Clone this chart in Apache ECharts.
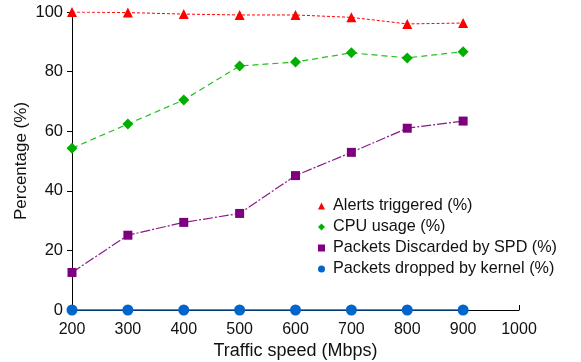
<!DOCTYPE html>
<html>
<head>
<meta charset="utf-8">
<script src="https://cdn.jsdelivr.net/npm/echarts@6/dist/echarts.min.js"></script>
<style>
  html, body { margin: 0; padding: 0; background: #fff; }
  #main { width: 581px; height: 362px; }
</style>
</head>
<body>
<div id="main"></div>
<script>
var speeds = [200, 300, 400, 500, 600, 700, 800, 900];
var alerts = [100, 99.8, 99.3, 99.0, 99.0, 98.2, 96.0, 96.3];
var cpu = [54.3, 62.4, 70.5, 81.9, 83.2, 86.3, 84.6, 86.7];
var spdDiscard = [12.6, 25.1, 29.4, 32.4, 45.1, 52.9, 61.0, 63.4];
var kernelDrop = [0, 0, 0, 0, 0, 0, 0, 0];

function pairs(ys) {
    return speeds.map(function (x, i) { return [x, ys[i]]; });
}

var myChart = echarts.init(document.getElementById('main'));
var font = 'Liberation Sans, Arial, sans-serif';

var option = {
    animation: false,
    textStyle: { fontFamily: font },
    grid: { left: 72, right: 62, top: 12, bottom: 52, containLabel: false, outerBoundsMode: 'none' },
    legend: {
        orient: 'vertical',
        left: 313,
        top: 193,
        itemGap: 5,
        itemWidth: 7,
        itemHeight: 7,
        textStyle: { fontSize: 16.2, lineHeight: 16, color: '#111', fontFamily: font, padding: [0, 0, 0, 3] },
        data: [
            { name: 'Alerts triggered (%)', icon: 'triangle', itemStyle: { color: '#ff0000' } },
            { name: 'CPU usage (%)', icon: 'diamond', itemStyle: { color: '#00b000' } },
            { name: 'Packets Discarded by SPD (%)', icon: 'rect', itemStyle: { color: '#7f007f' } },
            { name: 'Packets dropped by kernel (%)', icon: 'circle', itemStyle: { color: '#0066cc' } }
        ]
    },
    xAxis: {
        type: 'value',
        min: 200,
        max: 1000,
        interval: 100,
        name: 'Traffic speed (Mbps)',
        nameLocation: 'middle',
        nameGap: 32,
        nameMoveOverlap: false,
        nameTextStyle: { fontSize: 18, color: '#111' },
        axisLine: { lineStyle: { color: '#000', width: 1 } },
        axisTick: { inside: true, length: 5, lineStyle: { color: '#000' } },
        axisLabel: { fontSize: 16, color: '#111', margin: 12, formatter: function (v) { return String(v); } },
        splitLine: { show: false }
    },
    yAxis: {
        type: 'value',
        min: 0,
        max: 100,
        interval: 20,
        name: 'Percentage (%)',
        nameLocation: 'middle',
        nameGap: 42,
        nameMoveOverlap: false,
        nameTextStyle: { fontSize: 17, color: '#111' },
        axisLine: { show: true, lineStyle: { color: '#000', width: 1 } },
        axisTick: { show: true, length: 5, lineStyle: { color: '#000' } },
        axisLabel: { fontSize: 16.5, color: '#111', margin: 9 },
        splitLine: { show: false }
    },
    series: [
        {
            name: 'Alerts triggered (%)',
            type: 'line',
            data: pairs(alerts),
            symbol: 'triangle',
            symbolSize: 10,
            itemStyle: { color: '#ff0000' },
            lineStyle: { color: '#ff0000', width: 1, type: [3, 2] }
        },
        {
            name: 'CPU usage (%)',
            type: 'line',
            data: pairs(cpu),
            symbol: 'diamond',
            symbolSize: 11,
            itemStyle: { color: '#00b000' },
            lineStyle: { color: '#22c022', width: 1.2, type: [6, 4] }
        },
        {
            name: 'Packets Discarded by SPD (%)',
            type: 'line',
            data: pairs(spdDiscard),
            symbol: 'rect',
            symbolSize: 9,
            itemStyle: { color: '#7f007f' },
            lineStyle: { color: '#8a1a8a', width: 1.2, type: [10, 2, 2, 2] }
        },
        {
            name: 'Packets dropped by kernel (%)',
            type: 'line',
            data: pairs(kernelDrop),
            symbol: 'circle',
            symbolSize: 11,
            itemStyle: { color: '#0066cc' },
            lineStyle: { color: '#0066cc', width: 1.5 },
            z: 5
        }
    ]
};

myChart.setOption(option, true);
</script>
</body>
</html>
